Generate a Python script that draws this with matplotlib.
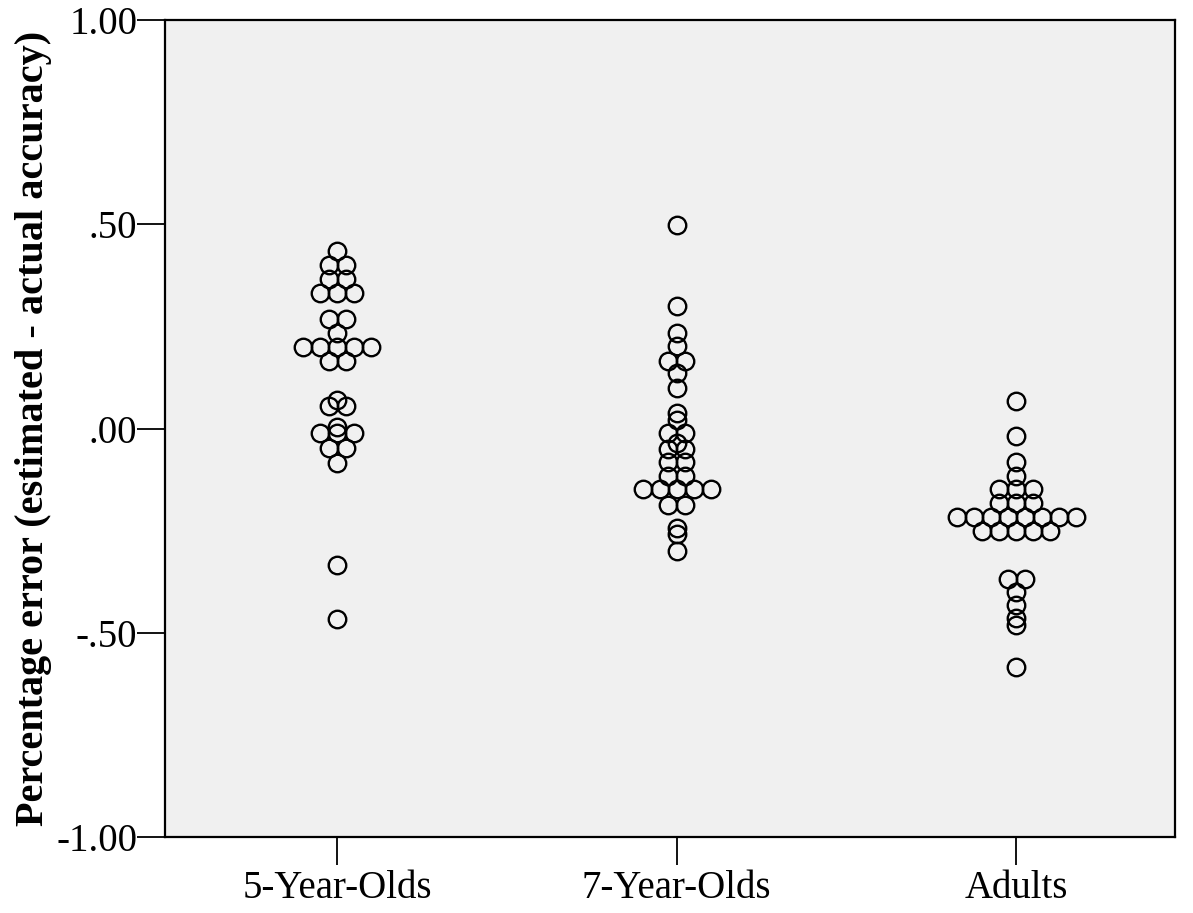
import numpy as np
import matplotlib
matplotlib.use('Agg')
import matplotlib.pyplot as plt

# group labels and the values (one entry per dot)
groups = ["5-Year-Olds", "7-Year-Olds", "Adults"]

five_year = [0.434, 0.401, 0.401, 0.366, 0.366, 0.332, 0.332, 0.332,
             0.268, 0.268, 0.234, 0.200, 0.200, 0.200, 0.200, 0.200,
             0.165, 0.165, 0.069, 0.055, 0.055, 0.004, -0.012, -0.012,
             -0.012, -0.047, -0.047, -0.084, -0.333, -0.466]

seven_year = [0.499, 0.299, 0.233, 0.201, 0.166, 0.166, 0.135, 0.100,
              0.037, 0.020, -0.012, -0.012, -0.035, -0.051, -0.051,
              -0.082, -0.082, -0.115, -0.115, -0.149, -0.149, -0.149,
              -0.149, -0.149, -0.186, -0.186, -0.243, -0.259, -0.300]

adults = [0.067, -0.017, -0.082, -0.117, -0.149, -0.149, -0.149,
          -0.182, -0.182, -0.182, -0.216, -0.216, -0.216, -0.216, -0.216,
          -0.216, -0.216, -0.216, -0.251, -0.251, -0.251, -0.251, -0.251,
          -0.368, -0.368, -0.401, -0.431, -0.463, -0.482, -0.583]

yticks = [1.0, 0.5, 0.0, -0.5, -1.0]
ytick_labels = ["1.00", ".50", ".00", "-.50", "-1.00"]

dot_step = 0.05  # horizontal spacing between stacked dots (x units)


def stack_offsets(values):
    # dots sharing one value are laid out side by side, centred on the group
    vals = np.array(values)
    offs = np.zeros(len(vals))
    for v in np.unique(vals):
        idx = np.where(vals == v)[0]
        n = len(idx)
        offs[idx] = (np.arange(n) - (n - 1) / 2.0) * dot_step
    return offs


plt.rcParams['font.family'] = ['Liberation Serif', 'DejaVu Serif']

fig = plt.figure(figsize=(11.93, 9.13), dpi=100)
ax = fig.add_axes([0.1383, 0.0832, 0.8467, 0.8948])
ax.set_facecolor('#f0f0f0')

for i, vals in enumerate([five_year, seven_year, adults]):
    x = i + stack_offsets(vals)
    ax.plot(x, vals, 'o', linestyle='none', markersize=12.6,
            markerfacecolor='none', markeredgecolor='black',
            markeredgewidth=1.7)

ax.set_xlim(-0.507, 2.468)
ax.set_ylim(-1.0, 1.0)
ax.set_xticks(range(len(groups)))
ax.set_xticklabels(groups, fontsize=28)
ax.set_yticks(yticks)
ax.set_yticklabels(ytick_labels, fontsize=28)
ax.tick_params(axis='both', length=20, width=1.3, direction='out')
ax.tick_params(axis='x', pad=4)
ax.tick_params(axis='y', pad=0)

for s in ['left', 'bottom', 'top', 'right']:
    ax.spines[s].set_linewidth(1.6)

ax.set_ylabel("Percentage error (estimated - actual accuracy)",
              fontsize=29, fontweight='bold', labelpad=3)

fig.savefig("out.png", dpi=100)
